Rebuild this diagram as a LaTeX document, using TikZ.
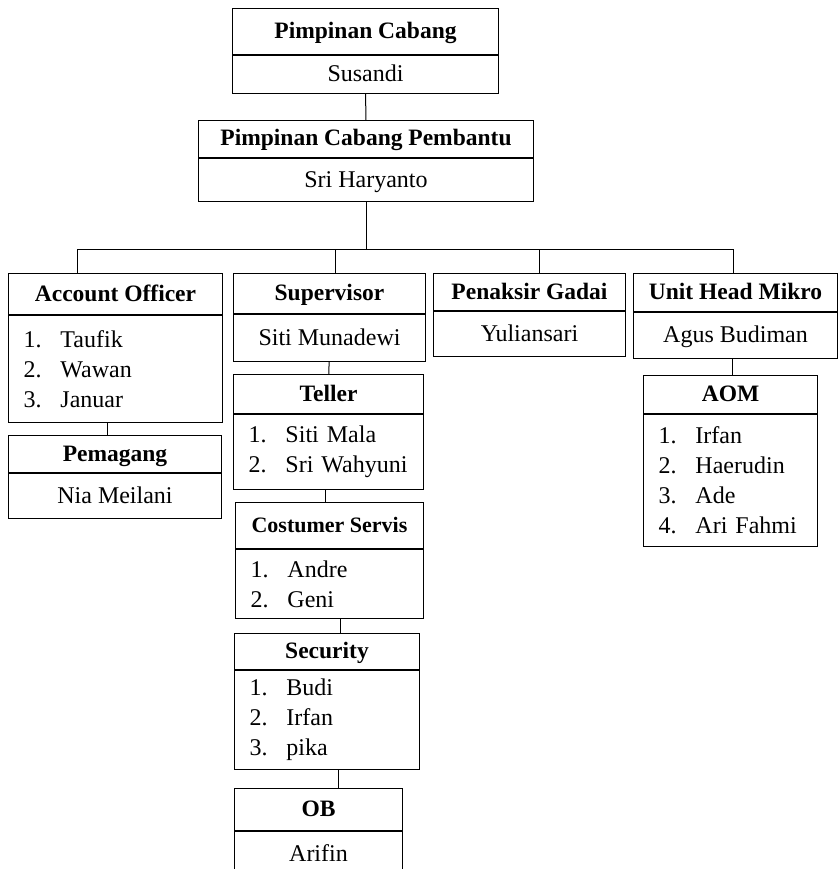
\documentclass[tikz,border=0pt]{standalone}
\usepackage{fontspec}
\setmainfont{Liberation Serif}
\usepackage{tikz}
\usetikzlibrary{positioning}

\newcommand{\butir}[1]{\makebox[37pt][l]{#1}}

\tikzset{
  jabatan/.style={draw, line width=1pt, inner sep=0pt, anchor=north west,
    text height=17pt, text depth=3pt,
    font=\fontsize{23.5}{28}\selectfont\bfseries},
  isi/.style={draw, line width=1pt, inner sep=0pt, anchor=north,
    text height=17pt, text depth=3pt,
    font=\fontsize{24}{30}\selectfont},
  daftar/.style={draw, line width=1pt, inner sep=0pt, anchor=north,
    font=\fontsize{24}{30}\selectfont, align=left, inner xsep=15pt},
  garis/.style={line width=1pt}
}

\begin{document}
\begin{tikzpicture}[x=1pt, y=-1pt]
    \clip (0,0) rectangle (838,869);
    \fill[white] (0,0) rectangle (838,869);

    \node[jabatan, minimum width=266pt, minimum height=46pt] (pch) at (232,8) {Pimpinan Cabang};
    \node[isi, minimum width=266pt, minimum height=38pt] (pcb) at (pch.south) {Susandi};

    \node[jabatan, minimum width=335pt, minimum height=37pt] (pcph) at (198,120) {Pimpinan Cabang Pembantu};
    \node[isi, minimum width=335pt, minimum height=43pt] (pcpb) at (pcph.south) {Sri Haryanto};

    \node[jabatan, minimum width=214pt, minimum height=41pt] (aoh) at (8,273) {Account Officer};
    \node[daftar, text width=184pt, minimum height=107pt] (aob) at (aoh.south)
        {\butir{1.}Taufik\\ \butir{2.}Wawan\\ \butir{3.}Januar};

    \node[jabatan, minimum width=213pt, minimum height=37pt] (pemh) at (8,435) {Pemagang};
    \node[isi, minimum width=213pt, minimum height=45pt] (pemb) at (pemh.south) {Nia Meilani};

    \node[jabatan, minimum width=192pt, minimum height=40pt] (suph) at (233,273) {Supervisor};
    \node[isi, minimum width=192pt, minimum height=47pt] (supb) at (suph.south) {Siti Munadewi};

    \node[jabatan, minimum width=190pt, minimum height=39pt] (telh) at (233,374) {Teller};
    \node[daftar, text width=160pt, minimum height=75pt] (telb) at (telh.south)
        {\butir{1.}Siti Mala\\ \butir{2.}Sri Wahyuni};

    \node[jabatan, minimum width=188pt, minimum height=46pt, font=\fontsize{22}{26}\selectfont\bfseries] (csh) at (235,502) {Costumer Servis};
    \node[daftar, text width=158pt, minimum height=69pt] (csb) at (csh.south)
        {\butir{1.}Andre\\ \butir{2.}Geni};

    \node[jabatan, minimum width=185pt, minimum height=36pt] (sech) at (234,633) {Security};
    \node[daftar, text width=155pt, minimum height=99pt] (secb) at (sech.south)
        {\butir{1.}Budi\\ \butir{2.}Irfan\\ \butir{3.}pika};

    \node[jabatan, minimum width=168pt, minimum height=42pt] (obh) at (234,788) {OB};
    \node[isi, minimum width=168pt, minimum height=46pt] (obb) at (obh.south) {Arifin};

    \node[jabatan, minimum width=192pt, minimum height=37pt] (pgh) at (433,273) {Penaksir Gadai};
    \node[isi, minimum width=192pt, minimum height=45pt] (pgb) at (pgh.south) {Yuliansari};

    \node[jabatan, minimum width=204pt, minimum height=38pt] (uhmh) at (633,273) {Unit Head Mikro};
    \node[isi, minimum width=204pt, minimum height=46pt] (uhmb) at (uhmh.south) {Agus Budiman};

    \node[jabatan, minimum width=174pt, minimum height=38pt] (aomh) at (643,375) {AOM};
    \node[daftar, text width=144pt, minimum height=132pt] (aomb) at (aomh.south)
        {\butir{1.}Irfan\\ \butir{2.}Haerudin\\ \butir{3.}Ade\\ \butir{4.}Ari Fahmi};

    \coordinate (busL) at (77,249);
    \coordinate (busR) at (733,249);

    \draw[garis] (pcb) -- (pcph);
    \draw[garis] (pcpb.south) -- (pcpb.south |- busL);
    \draw[garis] (busL) -- (busR);
    \draw[garis] (busL) -- (busL |- aoh.north);
    \draw[garis] ([xshift=6pt]suph.north) -- ([xshift=6pt]suph.north |- busL);
    \draw[garis] ([xshift=10pt]pgh.north) -- ([xshift=10pt]pgh.north |- busL);
    \draw[garis] (busR) -- (busR |- uhmh.north);
    \draw[garis] ([xshift=-8pt]aob.south) -- ([xshift=-8pt]aob.south |- pemh.north);
    \draw[garis] (supb) -- (telh);
    \draw[garis] ([xshift=-3pt]telb.south) -- ([xshift=-3pt]telb.south |- csh.north);
    \draw[garis] ([xshift=11pt]csb.south) -- ([xshift=11pt]csb.south |- sech.north);
    \draw[garis] ([xshift=11pt]secb.south) -- ([xshift=11pt]secb.south |- obh.north);
    \draw[garis] ([xshift=-3pt]uhmb.south) -- ([xshift=-3pt]uhmb.south |- aomh.north);
\end{tikzpicture}
\end{document}
